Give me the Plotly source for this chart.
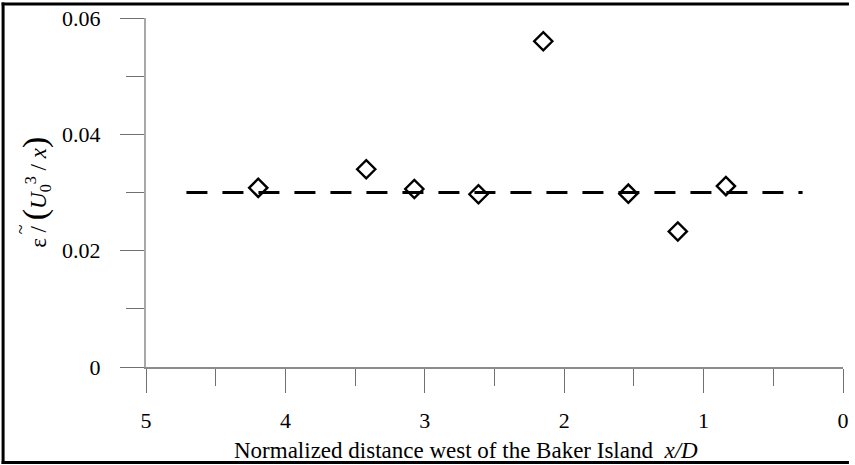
import plotly.graph_objects as go

# Measured dissipation rate, normalised, versus distance west of the island
x_over_d = [4.195, 3.42, 3.075, 2.615, 2.15, 1.54, 1.185, 0.84]
eps_norm = [0.0308, 0.0340, 0.0306, 0.0297, 0.0560, 0.0298, 0.0233, 0.0311]

# Mean level shown as a dashed reference line
mean_x = [4.71, 0.29]
mean_y = [0.030, 0.030]

x_ticks = [5, 4, 3, 2, 1, 0]
y_ticks = [0, 0.02, 0.04, 0.06]
y_tick_text = ["0", "0.02", "0.04", "0.06"]

W, H = 855, 465
ML, MR, MT, MB = 145.7, 6, 15.7, 97.7
plot_w = W - ML - MR
plot_h = H - MT - MB

FONT = "Times New Roman, Liberation Serif, serif"
AXIS_GREY = "#8c8c8c"


def px_x(p):
    return (p - ML) / plot_w


def px_y(p):
    return (H - MB - p) / plot_h


fig = go.Figure()

fig.add_trace(go.Scatter(
    x=mean_x, y=mean_y, mode="lines",
    line=dict(color="black", width=3, dash="21px,15px"),
    hoverinfo="skip", showlegend=False,
))

fig.add_trace(go.Scatter(
    x=x_over_d, y=eps_norm, mode="markers",
    marker=dict(symbol="diamond-open", size=14, color="black",
                line=dict(color="black", width=2.4)),
    showlegend=False,
))

fig.update_xaxes(
    range=[5, 0], autorange=False,
    tickvals=x_ticks, ticktext=[str(v) for v in x_ticks],
    ticks="outside", ticklen=24, tickwidth=1.2, tickcolor="#707070",
    minor=dict(dtick=0.5, ticks="outside", ticklen=17, tickwidth=1.2, tickcolor="#707070"),
    showline=True, linecolor=AXIS_GREY, linewidth=1.5,
    showgrid=False, zeroline=False,
    tickfont=dict(family=FONT, size=22, color="black"),
    ticklabelstandoff=9,
)

fig.update_yaxes(
    range=[0, 0.06], autorange=False,
    tickvals=y_ticks, ticktext=y_tick_text,
    ticks="outside", ticklen=24, tickwidth=1.2, tickcolor="#707070",
    minor=dict(dtick=0.01, ticks="outside", ticklen=18, tickwidth=1.2, tickcolor="#707070"),
    showline=True, linecolor="#a8a8a8", linewidth=2,
    showgrid=False, zeroline=False,
    tickfont=dict(family=FONT, size=22, color="black"),
    ticklabelstandoff=15,
)

# Axis titles
fig.add_annotation(
    xref="paper", yref="paper",
    x=px_x(469), y=px_y(451),
    text="Normalized distance west of the Baker Island  <i>x/D</i>",
    showarrow=False, xanchor="center", yanchor="middle",
    font=dict(family=FONT, size=23, color="black"),
)
fig.add_annotation(
    xref="paper", yref="paper",
    x=px_x(33), y=0.5,
    text="ε / <span style='font-size:34px'>(</span><i>U</i><sub>0</sub><sup>3</sup> / <i>x</i><span style='font-size:34px'>)</span>",
    textangle=-90, showarrow=False, xanchor="center", yanchor="middle",
    font=dict(family=FONT, size=23, color="black"),
)
# tilde over the epsilon
fig.add_annotation(
    xref="paper", yref="paper",
    x=px_x(19), y=px_y(228),
    text="~", textangle=-90, showarrow=False,
    xanchor="center", yanchor="middle",
    font=dict(family=FONT, size=18, color="black"),
)

# Frame on the left, top and bottom of the figure
frame = dict(type="line", xref="paper", yref="paper",
             line=dict(color="black", width=3), layer="above")
fig.add_shape(x0=px_x(1.5), x1=px_x(1.5), y0=px_y(0), y1=px_y(H), **frame)
fig.add_shape(x0=px_x(0), x1=px_x(W), y0=px_y(1.5), y1=px_y(1.5), **frame)
fig.add_shape(x0=px_x(0), x1=px_x(W), y0=px_y(H - 1.5), y1=px_y(H - 1.5), **frame)

fig.update_layout(
    width=W, height=H,
    margin=dict(l=ML, r=MR, t=MT, b=MB),
    paper_bgcolor="white", plot_bgcolor="white",
    font=dict(family=FONT, color="black"),
)

fig.write_html("out.html")
